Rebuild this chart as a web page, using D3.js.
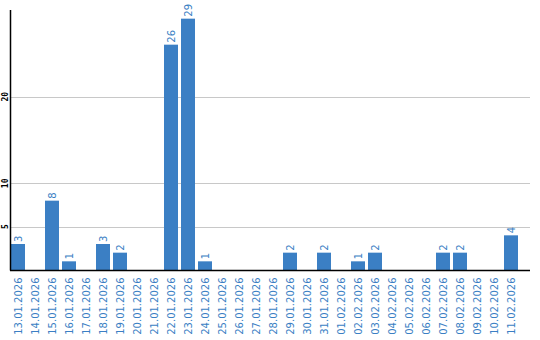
<!DOCTYPE html>
<html><head><meta charset="utf-8">
<script src="https://cdn.jsdelivr.net/npm/d3@7"></script>
<style>body{margin:0;background:#fff}svg{display:block}</style>
</head><body>
<svg id="c" width="540" height="340"></svg>
<script>
const categories = ["13.01.2026","14.01.2026","15.01.2026","16.01.2026","17.01.2026","18.01.2026","19.01.2026","20.01.2026","21.01.2026","22.01.2026","23.01.2026","24.01.2026","25.01.2026","26.01.2026","27.01.2026","28.01.2026","29.01.2026","30.01.2026","31.01.2026","01.02.2026","02.02.2026","03.02.2026","04.02.2026","05.02.2026","06.02.2026","07.02.2026","08.02.2026","09.02.2026","10.02.2026","11.02.2026"];
const values = [3,0,8,1,0,3,2,0,0,26,29,1,0,0,0,0,2,0,2,0,1,2,0,0,0,2,2,0,0,4];
const yTicks = [5,10,20];

const svg = d3.select("#c");
const blue = "#3b7fc4";
const x = d3.scaleBand().domain(categories).range([9.5, 519.5]).paddingInner(3/17).paddingOuter(3/34);
const y = d3.scaleLinear().domain([0,30]).range([270,10]);

// gridlines
svg.append("g").selectAll("line").data(yTicks).join("line")
  .attr("x1",10.5).attr("x2",530).attr("y1",d=>Math.round(y(d))+0.5).attr("y2",d=>Math.round(y(d))+0.5)
  .attr("stroke","#c8c8c8").attr("stroke-width",1);

// y tick labels
svg.append("g").selectAll("text").data(yTicks).join("text")
  .attr("transform",d=>`translate(7.5,${y(d)}) rotate(-90)`)
  .attr("text-anchor","middle")
  .attr("font-family","DejaVu Sans Mono, monospace").attr("font-size","8px").attr("font-weight","bold")
  .attr("fill","#000").text(d=>d);

// bars
svg.append("g").selectAll("rect").data(values).join("rect")
  .attr("x",(d,i)=>x(categories[i])).attr("width",x.bandwidth())
  .attr("y",d=>y(d)).attr("height",d=>y(0)-y(d)).attr("fill",blue);

// value labels
svg.append("g").selectAll("text").data(values.map((v,i)=>({v,c:categories[i]})).filter(d=>d.v>0)).join("text")
  .attr("transform",d=>`translate(${x(d.c)+x.bandwidth()/2+4},${y(d.v)-2}) rotate(-90)`)
  .attr("text-anchor","start")
  .attr("font-family","DejaVu Sans, sans-serif").attr("font-size","10px")
  .attr("fill",blue).text(d=>d.v);

// axes lines
svg.append("line").attr("x1",10.5).attr("x2",10.5).attr("y1",10).attr("y2",270.5).attr("stroke","#000").attr("stroke-width",1.5);
svg.append("line").attr("x1",10).attr("x2",530).attr("y1",270.5).attr("y2",270.5).attr("stroke","#000").attr("stroke-width",1.5);

// x labels
svg.append("g").selectAll("text").data(categories).join("text")
  .attr("transform",d=>`translate(${x(d)+x.bandwidth()/2+4},277.5) rotate(-90)`)
  .attr("text-anchor","end")
  .attr("font-family","DejaVu Sans, sans-serif").attr("font-size","10px")
  .attr("fill",blue).text(d=>d);
</script>
</body></html>
